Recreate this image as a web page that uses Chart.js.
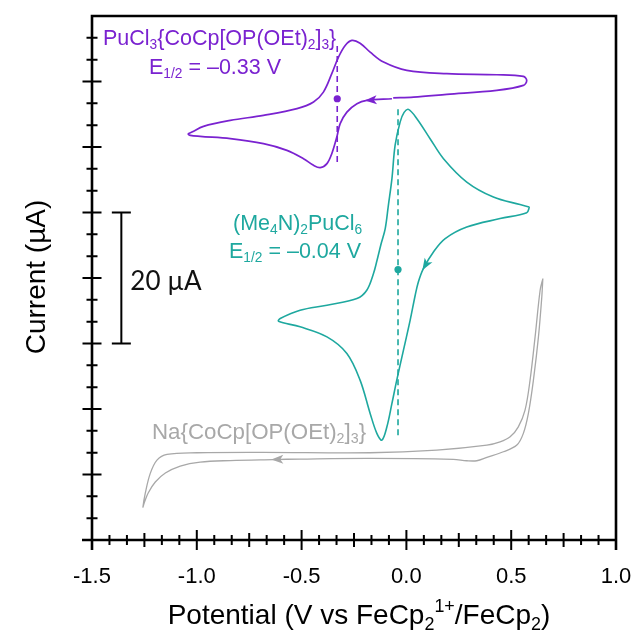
<!DOCTYPE html>
<html><head><meta charset="utf-8">
<script src="https://cdn.jsdelivr.net/npm/chart.js@4.4.1/dist/chart.umd.min.js"></script>
<style>html,body{margin:0;padding:0;background:#fff;overflow:hidden}#wrap{width:636px;height:633px}</style>
</head><body><div id="wrap"><canvas id="c" width="636" height="633"></canvas></div>
<script>
// ---- data (potential in V vs FeCp2+/FeCp2, current in µA, arbitrary offset) ----
const purpleV = [-0.069,-0.189,-0.236,-0.284,-0.316,-0.332,-0.356,-0.379,-0.411,-0.443,-0.491,-0.570,-0.682,-0.840,-0.984,-1.031,-1.041,-1.023,-0.968,-0.840,-0.682,-0.522,-0.443,-0.396,-0.356,-0.324,-0.292,-0.260,-0.221,-0.173,-0.109,0.002,0.193,0.431,0.558,0.574,0.558,0.431,0.193,0.034,-0.063];
const purpleI = [67.37,67.11,66.61,65.33,63.56,61.52,58.98,57.46,56.85,57.2,58.22,59.49,60.51,61.27,61.62,61.78,62.0,62.28,63.15,64.06,64.83,65.85,66.86,68.38,71.19,73.72,75.50,76.27,75.85,74.48,72.96,71.69,71.19,71.03,70.77,70.16,69.40,68.64,68.03,67.62,67.50];
const tealV = [0.587,0.574,0.447,0.288,0.185,0.129,0.081,0.057,0.042,0.018,-0.014,-0.046,-0.069,-0.093,-0.117,-0.141,-0.173,-0.221,-0.284,-0.379,-0.507,-0.610,-0.602,-0.507,-0.379,-0.236,-0.189,-0.157,-0.140,-0.120,-0.101,-0.086,-0.069,-0.054,-0.030,-0.011,0.010,0.050,0.113,0.177,0.288,0.415,0.542,0.587];
const tealI = [50.84,49.98,49.07,47.79,46.02,43.98,41.44,39.40,37.37,33.56,28.98,24.41,20.85,17.28,15.25,16.28,19.33,24.41,28.48,31.01,32.54,33.40,33.82,35.08,35.85,36.87,38.13,40.68,42.71,45.30,47.54,51.10,55.17,60.25,63.80,65.28,65.74,64.32,61.27,58.22,54.65,52.36,51.21,50.84];
const grayV = [0.651,0.646,0.630,0.606,0.582,0.558,0.527,0.463,0.384,0.336,0.288,0.224,-0.173,-0.507,-0.635,-0.840,-0.984,-1.079,-1.150,-1.198,-1.232,-1.251,-1.257,-1.246,-1.222,-1.190,-1.142,-0.999,-0.682,-0.173,0.145,0.384,0.447,0.495,0.534,0.566,0.590,0.614,0.638,0.651];
const grayI = [39.92,37.11,31.01,24.41,19.33,16.28,14.49,13.47,12.61,12.10,12.10,12.31,12.46,12.36,12.28,12.13,11.90,11.29,10.22,8.85,7.17,5.64,5.03,7.12,10.17,12.20,13.07,13.32,13.38,13.32,13.73,14.49,14.99,15.76,17.28,19.83,24.41,31.01,38.13,39.92];
// E1/2 markers: [purple, teal]
const halfWaveV = [-0.33, -0.04];
const halfWaveLineLow = [57.7, 16.0];
const halfWaveLineHigh = [75.5, 65.9];
const halfWaveDotI = [67.37, 41.29];
// scan-direction arrows (index into each series)
const arrowIndex = [1, 6, 14];
// axis ticks
const xTickValues = [-1.5, -1.0, -0.5, 0.0, 0.5, 1.0];
const xTickLabels = ['-1.5', '-1.0', '-0.5', '0.0', '0.5', '1.0'];
const yMajorStep = 10;
// scale bar (µA)
const scaleBarFrom = 30, scaleBarTo = 50, scaleBarV = -1.36;

const COL_P = '#7a22d0', COL_T = '#1ea89f', COL_G = '#a8a8a8';
const pts = (V, I) => V.map((v, i) => ({x: v, y: I[i]}));

const datasets = [
  {data: pts(purpleV, purpleI), borderColor: COL_P, borderWidth: 1.7, arrowAt: arrowIndex[0]},
  {data: pts(tealV, tealI), borderColor: COL_T, borderWidth: 1.6, arrowAt: arrowIndex[1]},
  {data: pts(grayV, grayI), borderColor: COL_G, borderWidth: 1.3, arrowAt: arrowIndex[2]},
].map(d => Object.assign({showLine: true, pointRadius: 0, tension: 0.35, fill: false, backgroundColor: d.borderColor}, d));

halfWaveV.forEach((v, k) => {
  const c = k === 0 ? COL_P : COL_T;
  datasets.push({data: [{x: v, y: halfWaveLineLow[k]}, {x: v, y: halfWaveLineHigh[k]}], showLine: true,
    borderColor: c, borderWidth: 1.6, borderDash: [6, 4], pointRadius: 0});
  datasets.push({data: [{x: v, y: halfWaveDotI[k]}], showLine: false, pointRadius: 3.6,
    backgroundColor: c, borderColor: c, pointBorderWidth: 0});
});

function richWidth(ctx, segs, size, family) {
  let w = 0;
  for (const [t, k] of segs) {
    ctx.font = (k ? size * 0.64 : size) + 'px ' + family;
    w += ctx.measureText(t).width;
  }
  return w;
}
function rich(ctx, segs, x, y, size, color, family, align) {
  const w = richWidth(ctx, segs, size, family);
  if (align === 'center') x -= w / 2;
  ctx.fillStyle = color; ctx.textBaseline = 'alphabetic'; ctx.textAlign = 'left';
  for (const [t, k] of segs) {
    ctx.font = (k ? size * 0.64 : size) + 'px ' + family;
    const dy = k === 'b' ? size * 0.2 : k === 'p' ? -size * 0.42 : 0;
    ctx.fillText(t, x, y + dy);
    x += ctx.measureText(t).width;
  }
}

const decor = {
  id: 'decor',
  afterDatasetsDraw(chart) {
    const ctx = chart.ctx;
    chart.data.datasets.forEach((ds, di) => {
      if (ds.arrowAt === undefined) return;
      const meta = chart.getDatasetMeta(di);
      const p = meta.data[ds.arrowAt], q = meta.data[ds.arrowAt - 1];
      const ang = Math.atan2(p.y - q.y, p.x - q.x);
      ctx.save();
      ctx.translate(p.x, p.y); ctx.rotate(ang);
      ctx.fillStyle = ds.borderColor;
      ctx.beginPath();
      ctx.moveTo(2, 0); ctx.lineTo(-10, -4.5); ctx.lineTo(-7, 0); ctx.lineTo(-10, 4.5); ctx.closePath();
      ctx.fill();
      ctx.restore();
    });
  },
  afterDraw(chart) {
    const {ctx, chartArea: a, scales: {x, y}} = chart;
    ctx.save();
    ctx.strokeStyle = '#000';
    ctx.lineWidth = 2.6;
    ctx.beginPath();
    ctx.moveTo(a.left - 1.3, a.top); ctx.lineTo(a.right + 1.3, a.top);
    ctx.moveTo(a.right, a.top); ctx.lineTo(a.right, a.bottom + 10);
    ctx.moveTo(a.left, a.top); ctx.lineTo(a.left, a.bottom + 10);
    ctx.moveTo(a.left - 10, a.bottom); ctx.lineTo(a.right, a.bottom);
    ctx.stroke();
    // x ticks
    ctx.lineWidth = 2;
    ctx.beginPath();
    const xmin = xTickValues[0], xmax = xTickValues[xTickValues.length - 1];
    const nx = Math.round((xmax - xmin) * 12);
    for (let k = 1; k < nx; k++) {
      const px = x.getPixelForValue(xmin + k / 12);
      const len = k % 6 === 0 ? 10 : k % 3 === 0 ? 7 : 5;
      ctx.moveTo(px, a.bottom - len); ctx.lineTo(px, a.bottom + len);
    }
    // y ticks
    const ny = Math.round((y.max - y.min) / yMajorStep * 3);
    for (let k = 1; k < ny; k++) {
      const py = y.getPixelForValue(y.min + k * yMajorStep / 3);
      const len = k % 3 === 0 ? 9.5 : 5.5;
      ctx.moveTo(a.left - len, py); ctx.lineTo(a.left + len, py);
    }
    ctx.stroke();
    // tick labels
    const fam = '"Liberation Sans", Arial, sans-serif';
    ctx.fillStyle = '#000';
    ctx.font = '22px ' + fam;
    ctx.textAlign = 'center'; ctx.textBaseline = 'alphabetic';
    xTickValues.forEach((v, i) => ctx.fillText(xTickLabels[i], x.getPixelForValue(v), a.bottom + 43));
    // axis titles
    rich(ctx, [['Potential (V vs FeCp', ''], ['2', 'b'], ['1+', 'p'], ['/FeCp', ''], ['2', 'b'], [')', '']],
      359, 624, 28, '#000', fam, 'center');
    ctx.save();
    ctx.translate(45, 277);
    ctx.rotate(-Math.PI / 2);
    rich(ctx, [['Current (µA)', '']], 0, 0, 28, '#000', fam, 'center');
    ctx.restore();
    // scale bar
    const sx = x.getPixelForValue(scaleBarV);
    const s0 = y.getPixelForValue(scaleBarFrom), s1 = y.getPixelForValue(scaleBarTo);
    ctx.lineWidth = 2;
    ctx.beginPath();
    ctx.moveTo(sx, s0); ctx.lineTo(sx, s1);
    ctx.moveTo(sx - 9.5, s0); ctx.lineTo(sx + 9.5, s0);
    ctx.moveTo(sx - 9.5, s1); ctx.lineTo(sx + 9.5, s1);
    ctx.stroke();
    rich(ctx, [['20 µA', '']], sx + 9, (s0 + s1) / 2 + 12, 26, '#111', 'Lato, "Open Sans", sans-serif', 'left');
    // series labels
    const ls = 21.5;
    rich(ctx, [['PuCl', ''], ['3', 'b'], ['{CoCp[OP(OEt)', ''], ['2', 'b'], [']', ''], ['3', 'b'], ['}', '']], 103, 45, ls, COL_P, fam);
    rich(ctx, [['E', ''], ['1/2', 'b'], [' = –0.33 V', '']], 149, 74, ls, COL_P, fam);
    rich(ctx, [['(Me', ''], ['4', 'b'], ['N)', ''], ['2', 'b'], ['PuCl', ''], ['6', 'b']], 233, 230, ls, COL_T, fam);
    rich(ctx, [['E', ''], ['1/2', 'b'], [' = –0.04 V', '']], 229, 258, ls, COL_T, fam);
    rich(ctx, [['Na{CoCp[OP(OEt)', ''], ['2', 'b'], [']', ''], ['3', 'b'], ['}', '']], 152, 439, 22.3, COL_G, fam);
    ctx.restore();
  }
};

new Chart(document.getElementById('c'), {
  type: 'scatter',
  data: {datasets},
  options: {
    responsive: false, animation: false,
    layout: {padding: {left: 92, top: 16, right: 20, bottom: 93}},
    plugins: {legend: {display: false}, tooltip: {enabled: false}},
    scales: {
      x: {type: 'linear', min: -1.5, max: 1.0, display: false},
      y: {type: 'linear', min: 0, max: 80, display: false}
    }
  },
  plugins: [decor]
});
</script></body></html>
